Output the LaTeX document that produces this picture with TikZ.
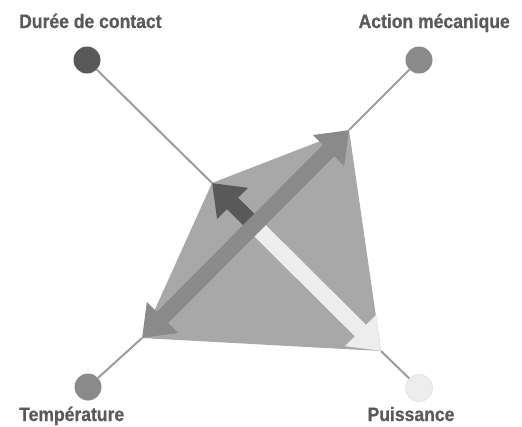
\documentclass[tikz,border=0pt]{standalone}
\usepackage{fontspec}
\newfontfamily\labelfont{Liberation Sans}[FakeStretch=0.9, FakeBold=0.6]
\usetikzlibrary{arrows.meta, positioning}
\definecolor{darkgrey}{HTML}{595959}
\definecolor{midgrey}{HTML}{8A8A8A}
\definecolor{kitegrey}{HTML}{A8A8A8}
\definecolor{palegrey}{HTML}{EDEDED}
\definecolor{textgrey}{HTML}{5A5A5A}
\definecolor{linegrey}{HTML}{9C9C9C}
\tikzset{
    factor dot/.style={
        circle,
        minimum size=27pt,
        inner sep=0pt,
        draw=none
    },
    factor label/.style={
        font=\labelfont\bfseries\fontsize{19.5}{22}\selectfont,
        text=textgrey,
        inner sep=0pt
    },
    spoke/.style={
        line width=2pt,
        draw=linegrey
    },
    big arrow/.style={
        line width=16pt,
        -{Triangle[length=29pt, width=42pt]}
    }
}

\begin{document}
\begin{tikzpicture}[x=1pt, y=-1pt]
                \useasboundingbox (0,0) rectangle (522,426);

                % Corners of the kite
                \coordinate (dv) at (212,183);
                \coordinate (av) at (349,130);
                \coordinate (tv) at (142,338);
                \coordinate (pv) at (381,351);
                \coordinate (mid) at (254.4,225.1);

                % Kite
                \fill[kitegrey] (dv) -- (av) -- (pv) -- (tv) -- cycle;

                % Factor dots
                \node[factor dot, fill=darkgrey] (duree) at (87,60) {};
                \node[factor dot, fill=midgrey] (action) at (419,60) {};
                \node[factor dot, fill=midgrey] (temp) at (88,387) {};
                \node[factor dot, fill=palegrey, draw=black!12, line width=0.6pt] (puiss) at (419,388) {};

                % Spokes
                \draw[spoke] (duree) -- (dv);
                \draw[spoke] (action) -- (av);
                \draw[spoke] (temp) -- (tv);
                \draw[spoke] (puiss) -- (pv);

                % Arrows
                \draw[big arrow, darkgrey] (mid) -- (dv);
                \draw[big arrow, palegrey] (mid) -- (pv);
                \draw[big arrow, midgrey, {Triangle[length=29pt, width=42pt]}-{Triangle[length=29pt, width=42pt]}] (tv) -- (av);

                % Labels
                \node[factor label, anchor=base west] (lduree) at (19,28) {Durée de contact};
                \node[factor label, anchor=base east] (laction) at (510,28) {Action mécanique};
                \node[factor label, anchor=base west] (ltemp) at (19,421) {Température};
                \node[factor label, anchor=base] (lpuiss) at (411,421) {Puissance};
            \end{tikzpicture}
\end{document}
